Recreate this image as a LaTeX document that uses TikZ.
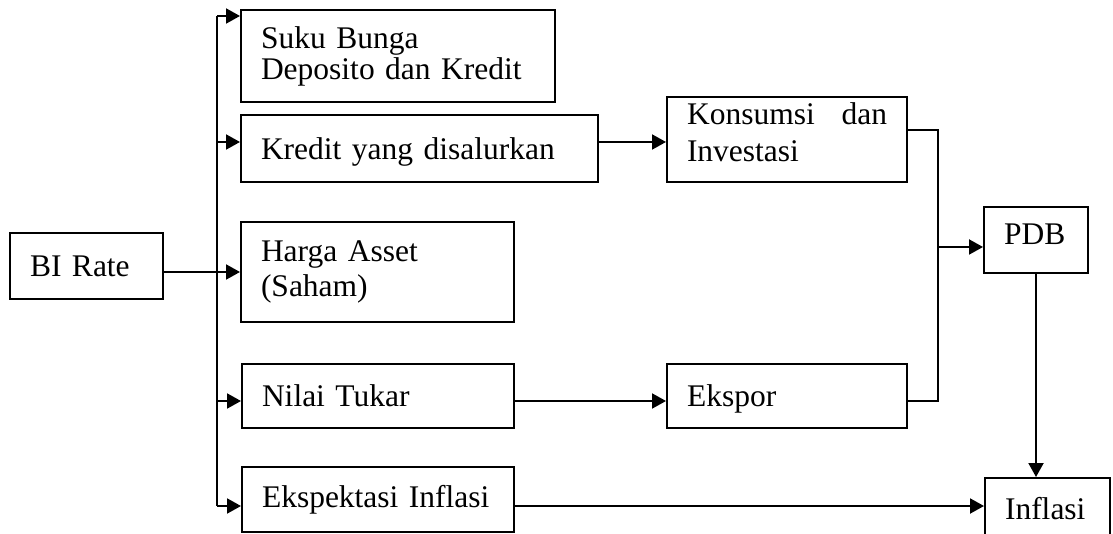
\documentclass[tikz,border=0pt]{standalone}
\usepackage{fontspec}
\setmainfont{Liberation Serif}
\usetikzlibrary{arrows.meta,positioning}

\begin{document}
\begin{tikzpicture}[x=1pt, y=-1pt,
    every node/.style={font=\fontsize{31.5}{34}\selectfont},
    kotak/.style={draw, line width=2pt, align=left, inner xsep=20pt, inner ysep=0pt},
    garis/.style={line width=2pt},
    panah/.style={line width=2pt, -{Triangle[length=14pt,width=15pt]}}]
    \useasboundingbox (0,0) rectangle (1113,534);

    % Left column
    \node[kotak, minimum width=153pt, minimum height=66pt, text width=113pt] (birate) at (86.5,266) {BI Rate};

    % Channels
    \node[kotak, minimum width=314pt, minimum height=92pt, text width=274pt,
          font=\fontsize{31.5}{31}\selectfont] (suku) at (398,56) {Suku Bunga\\Deposito dan Kredit};
    \node[kotak, minimum width=357pt, minimum height=67pt, text width=317pt, text depth=0pt] (kredit) at (419.5,148.5) {Kredit yang disalurkan};
    \node[kotak, minimum width=273pt, minimum height=100pt, text width=233pt,
          font=\fontsize{31.5}{35}\selectfont] (harga) at (377.5,272) {Harga Asset\\(Saham)};
    \node[kotak, minimum width=272pt, minimum height=64pt, text width=232pt] (tukar) at (378,396) {Nilai Tukar};
    \node[kotak, minimum width=272pt, minimum height=65pt, text width=232pt] (ekspektasi) at (378,499.5) {Ekspektasi Inflasi};

    % Middle column
    \node[kotak, minimum width=240pt, minimum height=85pt, text width=200pt, text depth=51pt,
          font=\fontsize{31.5}{37}\selectfont] (konsumsi) at (787,139.5) {Konsumsi\hfill dan\\Investasi};
    \node[kotak, minimum width=240pt, minimum height=64pt, text width=200pt, text depth=0pt] (ekspor) at (787,396) {Ekspor};

    % Right column
    \node[kotak, minimum width=104pt, minimum height=66pt, text width=64pt, text depth=12pt] (pdb) at (1036,240) {PDB};
    \node[kotak, minimum width=125pt, minimum height=62pt, text width=85pt] (inflasi) at (1047.5,509) {Inflasi};

    % Trunk from BI Rate
    \coordinate (ttop) at (217,16);
    \coordinate (tkredit) at (217,142);
    \coordinate (ttukar) at (217,401);
    \coordinate (tbot) at (217,506);
    \draw[garis] (ttop) -- (tbot);
    \draw[panah] (ttop) -- (ttop -| suku.west);
    \draw[panah] (tkredit) -- (tkredit -| kredit.west);
    \draw[panah] (birate.east |- harga.west) -- (harga.west);
    \draw[panah] (ttukar) -- (ttukar -| tukar.west);
    \draw[panah] (tbot) -- (tbot -| ekspektasi.west);

    % Onward links
    \draw[panah] (kredit.east |- tkredit) -- (tkredit -| konsumsi.west);
    \draw[panah] (tukar.east |- ttukar) -- (ttukar -| ekspor.west);
    \draw[panah] (ekspektasi.east |- tbot) -- (tbot -| inflasi.west);

    % Join into PDB
    \coordinate (jtop) at (938,130);
    \coordinate (jmid) at (938,247);
    \coordinate (jbot) at (938,401);
    \draw[garis] (konsumsi.east |- jtop) -- (jtop) -- (jbot) -- (ekspor.east |- jbot);
    \draw[panah] (jmid) -- (jmid -| pdb.west);
    \draw[panah] (pdb.south) -- (pdb.south |- inflasi.north);
\end{tikzpicture}
\end{document}
